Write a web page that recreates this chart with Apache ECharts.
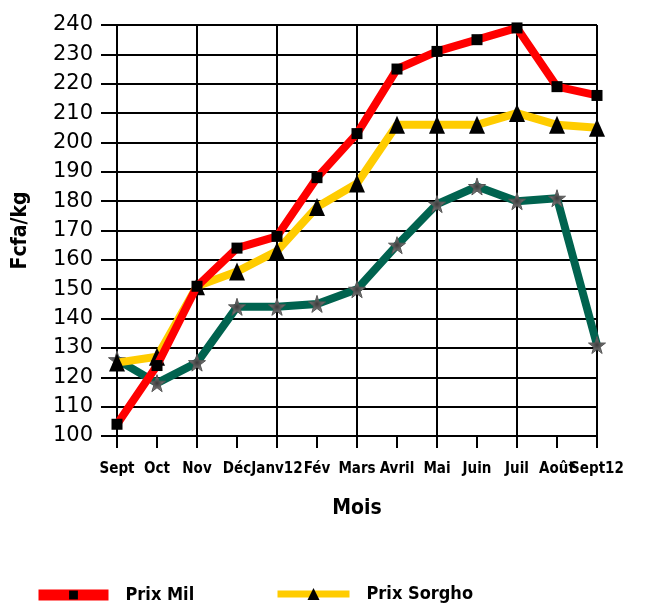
<!DOCTYPE html>
<html>
<head>
<meta charset="utf-8">
<script src="https://cdn.jsdelivr.net/npm/echarts@6/dist/echarts.min.js"></script>
<style>
  html, body { margin: 0; padding: 0; background: #fff; }
  #chart { width: 660px; height: 605px; }
</style>
</head>
<body>
<div id="chart"></div>
<script>
var mois = ['Sept', 'Oct', 'Nov', 'Déc', 'Janv12', 'Fév', 'Mars', 'Avril', 'Mai', 'Juin', 'Juil', 'Août', 'Sept12'];
var prixMil = [104, 124, 151, 164, 168, 188, 203, 225, 231, 235, 239, 219, 216];
var prixSorgho = [125, 127, 151, 156, 163, 178, 186, 206, 206, 206, 210, 206, 205];
var prixMais = [126, 118, 125, 144, 144, 145, 150, 165, 179, 185, 180, 181, 131];

var star = 'path://M50,0 L61,35 L98,35 L68,57 L79,91 L50,70 L21,91 L32,57 L2,35 L39,35 Z';

var legendText = {
  fontFamily: 'DejaVu Sans Condensed',
  fontWeight: 'bold',
  fontSize: 18,
  color: '#000',
  padding: [0, 0, 0, 12]
};

var option = {
  backgroundColor: '#fff',
  animation: false,
  grid: {
    left: 117,
    right: 63,
    top: 25,
    bottom: 169
  },
  legend: [
    {
      data: [{ name: 'Prix Mil', lineStyle: { width: 11 } }],
      left: 33,
      top: 586,
      padding: 0,
      itemWidth: 70,
      itemHeight: 11,
      textStyle: legendText
    },
    {
      data: [{ name: 'Prix Sorgho', lineStyle: { width: 7 } }],
      left: 274,
      top: 585,
      padding: 0,
      itemWidth: 72,
      itemHeight: 15,
      textStyle: legendText
    }
  ],
  xAxis: {
    type: 'category',
    data: mois,
    boundaryGap: false,
    name: 'Mois',
    nameLocation: 'middle',
    nameGap: 62,
    nameTextStyle: {
      fontFamily: 'DejaVu Sans Condensed',
      fontWeight: 'bold',
      fontSize: 21,
      color: '#000'
    },
    axisLine: { lineStyle: { color: '#000', width: 2 } },
    axisTick: { show: true, interval: 0, length: 12, lineStyle: { color: '#000', width: 2 } },
    axisLabel: {
      interval: 0,
      margin: 26,
      fontFamily: 'DejaVu Sans Condensed',
      fontWeight: 'bold',
      fontSize: 15,
      color: '#000'
    },
    splitLine: { show: true, interval: 1, lineStyle: { color: '#000', width: 2 } }
  },
  yAxis: {
    type: 'value',
    min: 100,
    max: 240,
    interval: 10,
    name: 'Fcfa/kg',
    nameLocation: 'middle',
    nameGap: 86,
    nameTextStyle: {
      fontFamily: 'DejaVu Sans Condensed',
      fontWeight: 'bold',
      fontSize: 21,
      color: '#000'
    },
    axisLine: { show: true, lineStyle: { color: '#000', width: 2 } },
    axisTick: { show: true, length: 16, lineStyle: { color: '#000', width: 2 } },
    axisLabel: {
      margin: 24,
      fontFamily: 'DejaVu Sans',
      fontSize: 21,
      color: '#000'
    },
    splitLine: { show: true, lineStyle: { color: '#000', width: 2 } }
  },
  series: [
    {
      name: 'Prix Maïs',
      type: 'line',
      data: prixMais,
      symbol: star,
      symbolSize: 17,
      lineStyle: { color: '#00634f', width: 8 },
      itemStyle: {
        color: new echarts.graphic.RadialGradient(0.5, 0.5, 0.6, [
          { offset: 0, color: '#3a3a3a' },
          { offset: 1, color: '#9a9a9a' }
        ]),
        borderColor: '#555',
        borderWidth: 1
      },
      z: 2
    },
    {
      name: 'Prix Sorgho',
      type: 'line',
      data: prixSorgho,
      symbol: 'triangle',
      symbolSize: [16, 18],
      lineStyle: { color: '#ffcc00', width: 8 },
      itemStyle: { color: '#000' },
      z: 3
    },
    {
      name: 'Prix Mil',
      type: 'line',
      data: prixMil,
      symbol: 'rect',
      symbolSize: 11,
      lineStyle: { color: '#ff0000', width: 8 },
      itemStyle: { color: '#000' },
      z: 4
    }
  ]
};

var chart = echarts.init(document.getElementById('chart'));
chart.setOption(option);
</script>
</body>
</html>
